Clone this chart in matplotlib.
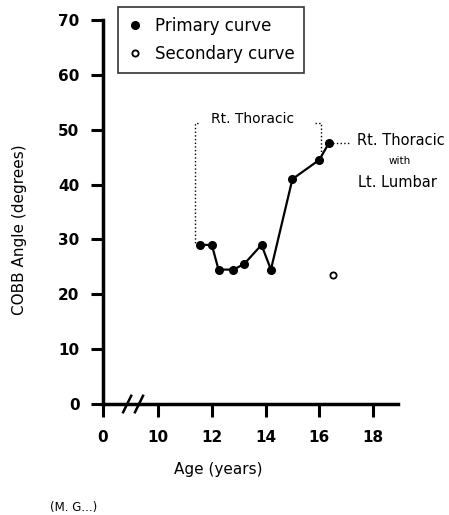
import matplotlib
matplotlib.use("Agg")
import matplotlib.pyplot as plt
from matplotlib.lines import Line2D

# data
primary_age = [11.55, 12.0, 12.25, 12.8, 13.2, 13.85, 14.2, 15.0, 16.0, 16.35]
primary_cobb = [29, 29, 24.5, 24.5, 25.5, 29, 24.5, 41, 44.5, 47.5]
secondary_age = [16.5]
secondary_cobb = [23.5]

x_ticks = [7.95, 10, 12, 14, 16, 18]
x_labels = ["0", "10", "12", "14", "16", "18"]
y_ticks = [0, 10, 20, 30, 40, 50, 60, 70]

# bracket for the "Rt. Thoracic" period
bracket_left = 11.38
bracket_right = 16.05
bracket_top = 51.3

plt.rcParams['font.family'] = ['DejaVu Sans']

fig = plt.figure(figsize=(4.49, 5.15), dpi=100)
ax = fig.add_axes([103/449, 111/515, 295/449, 384/515])

ax.plot(primary_age, primary_cobb, color='black', lw=1.6, marker='o', ms=5.5,
        zorder=3)
ax.plot(secondary_age, secondary_cobb, ls='none', marker='o', ms=4.5,
        mfc='white', mec='black', mew=1.3, zorder=3)

# dotted bracket
ax.plot([bracket_left + 0.12, bracket_left, bracket_left],
        [bracket_top, bracket_top, primary_cobb[0]],
        color='black', ls=':', lw=1)
ax.plot([bracket_right - 0.2, bracket_right, bracket_right],
        [bracket_top, bracket_top, primary_cobb[-2] + 1],
        color='black', ls=':', lw=1)
ax.text((bracket_left + bracket_right) / 2 - 0.2, bracket_top + 0.6, "Rt. Thoracic",
        ha='center', va='center', fontsize=10)

# right-hand label
ax.plot([primary_age[-1], 17.15], [primary_cobb[-1], primary_cobb[-1]],
        color='black', ls=':', lw=1)
ax.text(17.4, 48.1, "Rt. Thoracic", ha='left', va='center', fontsize=10.5,
        clip_on=False)
ax.text(18.98, 44.3, "with", ha='center', va='center', fontsize=7.5,
        clip_on=False)
ax.text(18.9, 40.4, "Lt. Lumbar", ha='center', va='center', fontsize=10.5,
        clip_on=False)

# axis break marks
for bx in [8.85, 9.29]:
    ax.plot([bx - 0.15, bx + 0.15], [-1.5, 1.5], color='black', lw=1.8,
            clip_on=False)

ax.set_xlim(7.95, 18.93)
ax.set_ylim(0, 70)
ax.set_xticks(x_ticks)
ax.set_xticklabels(x_labels)
ax.set_yticks(y_ticks)

for side in ['top', 'right']:
    ax.spines[side].set_visible(False)
for side in ['left', 'bottom']:
    ax.spines[side].set_linewidth(2.5)

ax.tick_params(direction='out', length=9, width=2.2, labelsize=11)
ax.tick_params(axis='x', pad=10)
ax.tick_params(axis='y', pad=8)
for lbl in ax.get_xticklabels() + ax.get_yticklabels():
    lbl.set_fontweight('bold')

ax.set_xlabel("Age (years)", fontsize=11)
ax.xaxis.set_label_coords(0.39, -0.15)
ax.set_ylabel("COBB Angle (degrees)", fontsize=11)
ax.yaxis.set_label_coords(-0.258, 0.453)

handles = [
    Line2D([], [], ls='none', marker='o', ms=5.5, color='black'),
    Line2D([], [], ls='none', marker='o', ms=4.5, mfc='white', mec='black', mew=1.3),
]
leg = ax.legend(handles, ["Primary curve", "Secondary curve"], loc='upper left',
                bbox_to_anchor=(118/449, 1 - 7/515), bbox_transform=fig.transFigure,
                borderaxespad=0, fontsize=12, frameon=True, fancybox=False,
                handlelength=0.8, handletextpad=0.8, borderpad=0.6,
                labelspacing=0.6)
leg.get_frame().set_edgecolor('black')
leg.get_frame().set_linewidth(1.2)

fig.text(50/449, 1 - 507/515, "(M. G...)", fontsize=8.5, ha='left', va='center')

fig.savefig("out.png", dpi=100)
